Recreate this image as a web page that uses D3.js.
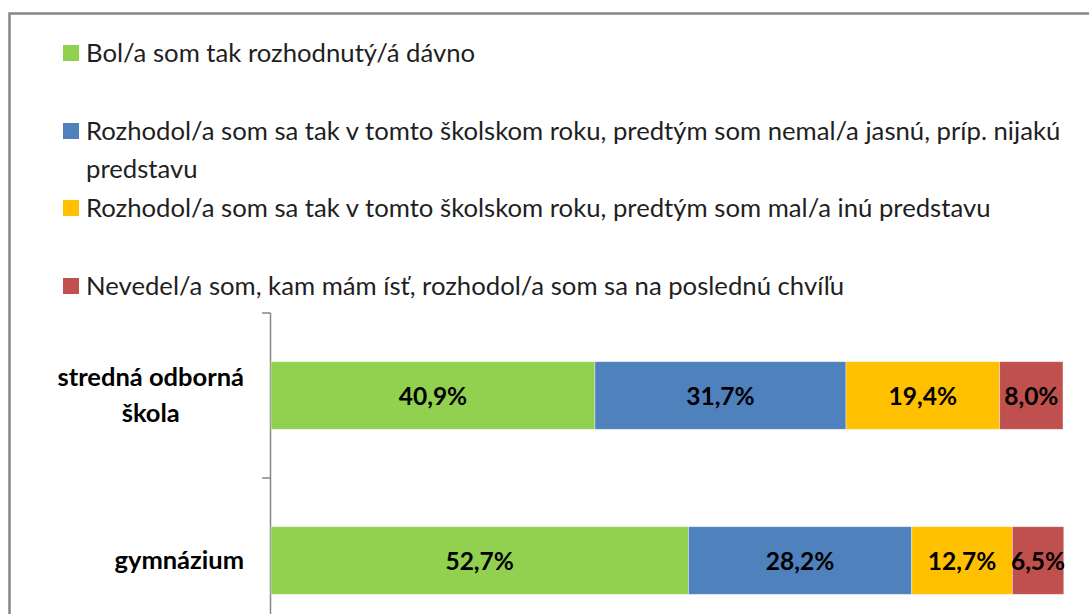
<!DOCTYPE html>
<html>
<head>
<meta charset="utf-8">
<script src="https://cdn.jsdelivr.net/npm/d3@7"></script>
<style>
  body { margin: 0; background: #fff; }
  svg { display: block; font-family: Lato, 'Open Sans', sans-serif; }
</style>
</head>
<body>
<div id="chart"></div>
<script>
// Data
const categories = ['stredná odborná škola', 'gymnázium'];
const categoryLines = [['stredná odborná', 'škola'], ['gymnázium']];
const seriesNames = [
  'Bol/a som tak rozhodnutý/á dávno',
  'Rozhodol/a som sa tak v tomto školskom roku, predtým som nemal/a jasnú, príp. nijakú predstavu',
  'Rozhodol/a som sa tak v tomto školskom roku, predtým som mal/a inú predstavu',
  'Nevedel/a som, kam mám ísť, rozhodol/a som sa na poslednú chvíľu'
];
const legendLines = [
  ['Bol/a som tak rozhodnutý/á dávno'],
  ['Rozhodol/a som sa tak v tomto školskom roku, predtým som nemal/a jasnú, príp. nijakú', 'predstavu'],
  ['Rozhodol/a som sa tak v tomto školskom roku, predtým som mal/a inú predstavu'],
  ['Nevedel/a som, kam mám ísť, rozhodol/a som sa na poslednú chvíľu']
];
const bolDavno = [40.9, 52.7];
const nemalPredstavu = [31.7, 28.2];
const malInuPredstavu = [19.4, 12.7];
const poslednaChvila = [8.0, 6.5];
const seriesValues = [bolDavno, nemalPredstavu, malInuPredstavu, poslednaChvila];
const colors = ['#92D050', '#4F81BD', '#FFC000', '#C0504D'];

const width = 1089, height = 614;

const svg = d3.select('#chart')
  .append('svg')
    .attr('width', width)
    .attr('height', height);

// Outer frame (right and bottom edges fall outside the picture)
svg.append('rect')
    .attr('x', 9.5)
    .attr('y', 13.5)
    .attr('width', 1100)
    .attr('height', 700)
    .style('fill', 'none')
    .style('stroke', '#878787')
    .style('stroke-width', 2.5);

// Legend
const legendBaselines = [62, 140, 217, 295];
const legendLineHeight = 38;
const legend = svg.append('g');
legendLines.forEach(function(lines, i) {
  const g = legend.append('g');
  g.append('rect')
      .attr('x', 63)
      .attr('y', legendBaselines[i] - 17)
      .attr('width', 16)
      .attr('height', 16)
      .style('fill', colors[i]);
  g.selectAll('text')
    .data(lines)
    .enter()
    .append('text')
      .attr('x', 86)
      .attr('y', function(d, j) { return legendBaselines[i] + j * legendLineHeight; })
      .style('font-size', '25.7px')
      .style('fill', '#1f1f1f')
      .text(function(d) { return d; });
});

// Scales
const xScale = d3.scaleLinear()
    .domain([0, 100])
    .range([271, 1063]);

const yScale = d3.scaleBand()
    .domain(categories)
    .range([313, 643])
    .paddingInner(0)
    .paddingOuter(0);

const barH = yScale.bandwidth() * 0.41;

// Axis with category ticks at band edges
const axis = svg.append('g');
axis.append('line')
    .attr('x1', 270.5).attr('x2', 270.5)
    .attr('y1', yScale.range()[0]).attr('y2', yScale.range()[1])
    .style('stroke', '#868686')
    .style('stroke-width', 1.5);
axis.selectAll('.tick')
  .data(categories.concat(['end']))
  .enter()
  .append('line')
    .attr('x1', 262).attr('x2', 270.5)
    .attr('y1', function(d, i) { return yScale.range()[0] + i * yScale.step(); })
    .attr('y2', function(d, i) { return yScale.range()[0] + i * yScale.step(); })
    .style('stroke', '#868686')
    .style('stroke-width', 1.5);

// Stacked segments
const stackData = categories.map(function(c, ci) {
  let acc = 0;
  return seriesValues.map(function(vals, si) {
    const seg = { cat: c, series: si, x0: acc, x1: acc + vals[ci], value: vals[ci] };
    acc += vals[ci];
    return seg;
  });
}).flat();

svg.selectAll('rect.seg')
  .data(stackData)
  .enter()
  .append('rect')
    .attr('class', 'seg')
    .attr('x', function(d) { return xScale(d.x0); })
    .attr('y', function(d) { return yScale(d.cat) + (yScale.bandwidth() - barH) / 2; })
    .attr('width', function(d) { return xScale(d.x1) - xScale(d.x0); })
    .attr('height', barH)
    .style('fill', function(d) { return colors[d.series]; })
    .style('stroke', '#ffffff')
    .style('stroke-opacity', 0.5)
    .style('stroke-width', 0.8);

svg.selectAll('text.val')
  .data(stackData)
  .enter()
  .append('text')
    .attr('class', 'val')
    .attr('x', function(d) { return (xScale(d.x0) + xScale(d.x1)) / 2; })
    .attr('y', function(d) { return yScale(d.cat) + yScale.bandwidth() / 2 + 9; })
    .attr('text-anchor', 'middle')
    .style('font-size', '24.5px')
    .style('font-weight', 'bold')
    .style('fill', '#000')
    .text(function(d) { return d.value.toFixed(1).replace('.', ',') + '%'; });

// Category labels: block right-aligned, lines centred within block
categories.forEach(function(c, ci) {
  const lines = categoryLines[ci];
  const g = svg.append('g');
  const texts = g.selectAll('text')
    .data(lines)
    .enter()
    .append('text')
      .attr('text-anchor', 'middle')
      .style('font-size', '25.5px')
      .style('font-weight', 'bold')
      .style('fill', '#000')
      .text(function(d) { return d; });
  let maxW = 0;
  texts.each(function() { maxW = Math.max(maxW, this.getComputedTextLength()); });
  const cy = yScale(c) + yScale.bandwidth() / 2;
  const lh = 36;
  const top = cy - (lines.length - 1) * lh / 2 + 8;
  texts
    .attr('x', 244 - maxW / 2)
    .attr('y', function(d, j) { return top + j * lh; });
});
</script>
</body>
</html>
